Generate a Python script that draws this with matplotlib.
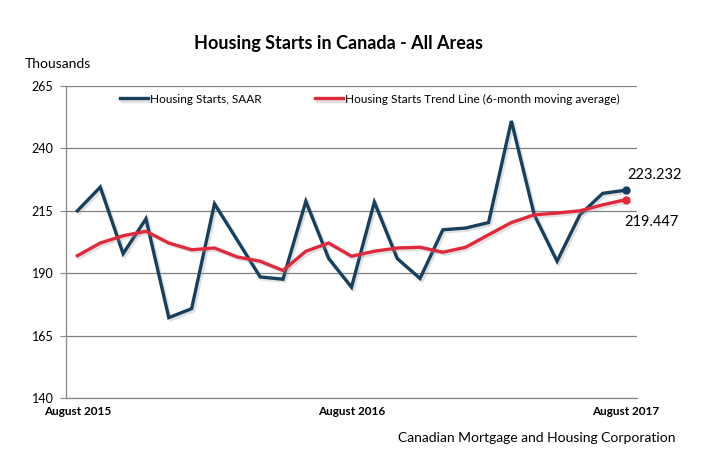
import matplotlib
matplotlib.use("Agg")
import matplotlib.pyplot as plt
import matplotlib.patheffects as pe

months = ["August 2015", "Sep 2015", "Oct 2015", "Nov 2015", "Dec 2015", "Jan 2016",
          "Feb 2016", "Mar 2016", "Apr 2016", "May 2016", "Jun 2016", "Jul 2016",
          "August 2016", "Sep 2016", "Oct 2016", "Nov 2016", "Dec 2016", "Jan 2017",
          "Feb 2017", "Mar 2017", "Apr 2017", "May 2017", "Jun 2017", "Jul 2017",
          "August 2017"]
saar = [215.0, 224.5, 197.8, 211.8, 172.2, 175.8, 217.8, 203.2, 188.5, 187.6,
        218.8, 195.9, 184.4, 218.5, 195.9, 187.9, 207.4, 208.1, 210.3, 251.0,
        213.4, 194.8, 213.4, 222.0, 223.232]
trend = [197.0, 202.1, 205.0, 206.8, 202.1, 199.4, 200.1, 196.5, 194.8, 191.1,
         198.8, 202.1, 196.8, 198.8, 200.1, 200.4, 198.4, 200.4, 205.4, 210.3,
         213.4, 214.1, 215.0, 217.4, 219.447]
yticks = [140, 165, 190, 215, 240, 265]
xlabel_idx = [0, 12, 24]

FONT = ["Lato", "DejaVu Sans"]
plt.rcParams["font.family"] = FONT

W, H = 701, 459
fig = plt.figure(figsize=(W / 100, H / 100), dpi=100)
ax = fig.add_axes([66 / W, 1 - 398 / H, (637 - 66) / W, (398 - 86) / H])

x = list(range(len(months)))
blue = "#17405E"
red = "#E02A3C"
shadow = [pe.SimpleLineShadow(offset=(1.5, -1.5), shadow_color="#9a9a9a", alpha=0.3), pe.Normal()]

ax.plot(x, saar, color=blue, lw=2.4, label="Housing Starts, SAAR", path_effects=shadow, zorder=3,
        solid_joinstyle="miter")
ax.plot(x, trend, color=red, lw=2.4, label="Housing Starts Trend Line (6-month moving average)",
        path_effects=shadow, zorder=3)
ax.plot([x[-1]], [saar[-1]], "o", color=blue, ms=5, zorder=4)
ax.plot([x[-1]], [trend[-1]], "o", color=red, ms=5, zorder=4)

ax.set_xlim(-0.5, len(months) - 0.5)
ax.set_ylim(140, 265)
ax.set_yticks(yticks)
ax.set_yticklabels([str(v) for v in yticks], fontsize=9)
ax.set_xticks([x[i] for i in xlabel_idx])
ax.set_xticklabels([months[i] for i in xlabel_idx], fontsize=8.5, fontweight="bold")
ax.tick_params(axis="x", length=0, pad=6)
ax.tick_params(axis="y", length=4, color="#888888", pad=5)
ax.grid(axis="y", color="#808080", lw=0.9)
ax.set_axisbelow(True)
for s in ["top", "right"]:
    ax.spines[s].set_visible(False)
for s in ["left", "bottom"]:
    ax.spines[s].set_color("#888888")
    ax.spines[s].set_linewidth(0.9)

leg = ax.legend(loc="upper center", bbox_to_anchor=(0.532, 1.01), ncol=2, frameon=False,
                fontsize=8.5, handlelength=2.4, handletextpad=0.15, columnspacing=4.5)

ax.annotate("223.232", xy=(x[-1], saar[-1]), xytext=(1, 11), textcoords="offset points",
            fontsize=10.5, ha="left", va="center")
ax.annotate("219.447", xy=(x[-1], trend[-1]), xytext=(-1, -16), textcoords="offset points",
            fontsize=10.5, ha="left", va="center")

fig.text(339 / W, 1 - 44 / H, "Housing Starts in Canada - All Areas", ha="center", va="center",
         fontsize=13, fontweight="bold")
fig.text(25 / W, 1 - 64 / H, "Thousands", ha="left", va="center", fontsize=10)
fig.text(675 / W, 1 - 438 / H, "Canadian Mortgage and Housing Corporation", ha="right",
         va="center", fontsize=10)

fig.savefig("out.png", dpi=100)
